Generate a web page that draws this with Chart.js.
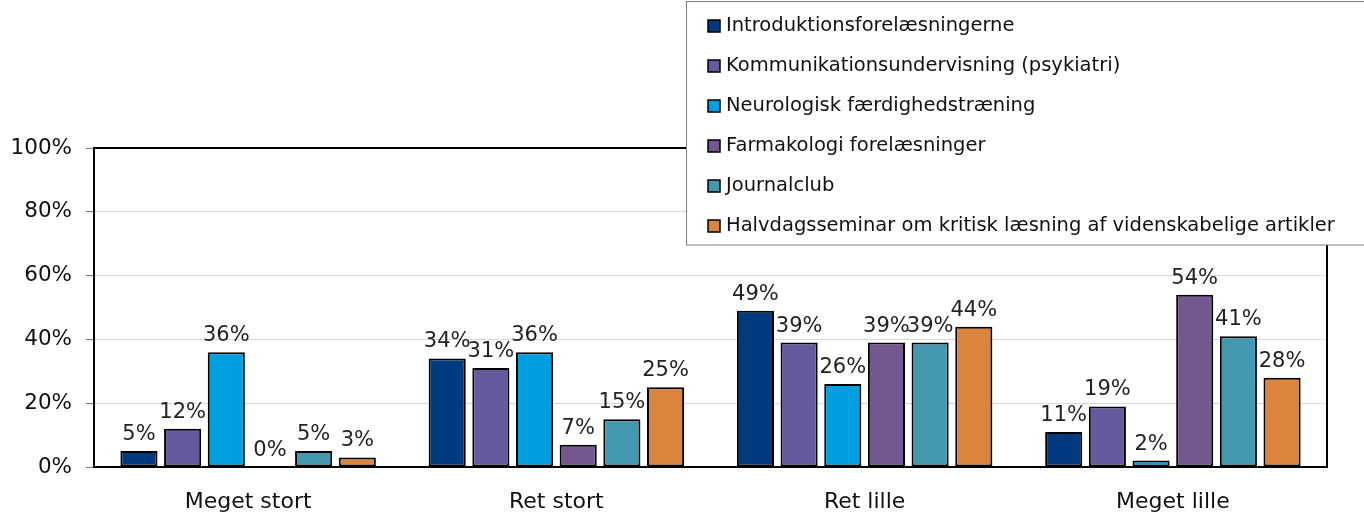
<!DOCTYPE html>
<html>
<head>
<meta charset="utf-8">
<script src="https://cdn.jsdelivr.net/npm/chart.js@4"></script>
<style>
  body { margin: 0; background: #fff; }
  canvas { display: block; }
</style>
</head>
<body>
<canvas id="myChart" width="1364" height="513"></canvas>
<script>
const categories = ["Meget stort", "Ret stort", "Ret lille", "Meget lille"];
const seriesNames = [
  "Introduktionsforelæsningerne",
  "Kommunikationsundervisning (psykiatri)",
  "Neurologisk færdighedstræning",
  "Farmakologi forelæsninger",
  "Journalclub",
  "Halvdagsseminar om kritisk læsning af videnskabelige artikler",
];
const intro = [5, 34, 49, 11];
const kommunikation = [12, 31, 39, 19];
const neurologisk = [36, 36, 26, 2];
const farmakologi = [0, 7, 39, 54];
const journalclub = [5, 15, 39, 41];
const halvdag = [3, 25, 44, 28];
const yTicks = [0, 20, 40, 60, 80, 100];

const colors = ["#023A80", "#665A9E", "#009FE0", "#72588E", "#4398B0", "#DB843E"];
const FONT = "'DejaVu Sans', sans-serif";

const seriesValues = [intro, kommunikation, neurologisk, farmakologi, journalclub, halvdag];

// value labels above each bar
const barLabels = {
  id: "barLabels",
  afterDatasetsDraw(chart) {
    const ctx = chart.ctx;
    ctx.save();
    ctx.font = "21px " + FONT;
    ctx.fillStyle = "#222";
    ctx.textAlign = "center";
    ctx.textBaseline = "bottom";
    chart.data.datasets.forEach((ds, i) => {
      chart.getDatasetMeta(i).data.forEach((bar, j) => {
        ctx.fillText(Math.round(ds.data[j]) + "%", bar.x, bar.y - 6);
      });
    });
    ctx.restore();
  },
};

// black frame round the plot + legend box on top
const frameAndLegend = {
  id: "frameAndLegend",
  afterDraw(chart) {
    const ctx = chart.ctx;
    const a = chart.chartArea;
    ctx.save();
    ctx.strokeStyle = "#000";
    ctx.lineWidth = 2;
    ctx.strokeRect(a.left, a.top, a.right - a.left, a.bottom - a.top);

    // legend
    ctx.fillStyle = "#fff";
    ctx.fillRect(686, 1, 690, 244);
    ctx.strokeStyle = "#7f7f7f";
    ctx.lineWidth = 1;
    ctx.strokeRect(686.5, 1.5, 690, 243.5);
    ctx.font = "19.5px " + FONT;
    ctx.textBaseline = "middle";
    ctx.textAlign = "left";
    chart.data.datasets.forEach((ds, i) => {
      const y = 26 + i * 40;
      ctx.fillStyle = ds.backgroundColor;
      ctx.fillRect(708, y - 6, 12, 12);
      ctx.strokeStyle = "#000";
      ctx.lineWidth = 1.5;
      ctx.strokeRect(708, y - 6, 12, 12);
      ctx.fillStyle = "#111";
      ctx.fillText(ds.label, 726, y);
    });
    ctx.restore();
  },
};

const ctx = document.getElementById("myChart");

new Chart(ctx, {
  type: "bar",
  data: {
    labels: categories,
    datasets: seriesNames.map((name, i) => ({
      label: name,
      data: seriesValues[i],
      backgroundColor: colors[i],
      borderColor: "#000",
      borderWidth: 2,
      borderSkipped: false,
      categoryPercentage: 0.85,
      barPercentage: 0.85,
    })),
  },
  options: {
    responsive: false,
    animation: false,
    layout: { padding: { top: 148, right: 37, left: 0, bottom: 0 } },
    plugins: {
      legend: { display: false },
      tooltip: { enabled: false },
    },
    scales: {
      x: {
        grid: { display: false },
        border: { color: "#000", width: 2 },
        ticks: { color: "#111", font: { family: FONT, size: 22 }, padding: 14 },
        afterFit(axis) { axis.height = 46; },
      },
      y: {
        min: 0,
        max: 100,
        afterBuildTicks(axis) { axis.ticks = yTicks.map((v) => ({ value: v })); },
        grid: { color: "#d9d9d9", tickColor: "#7f7f7f", tickLength: 8 },
        border: { color: "#000", width: 2 },
        ticks: {
          color: "#111",
          font: { family: FONT, size: 21.5 },
          padding: 14,
          callback: (v) => v + "%",
        },
        afterFit(axis) { axis.width = 94; },
      },
    },
  },
  plugins: [barLabels, frameAndLegend],
});
</script>
</body>
</html>
